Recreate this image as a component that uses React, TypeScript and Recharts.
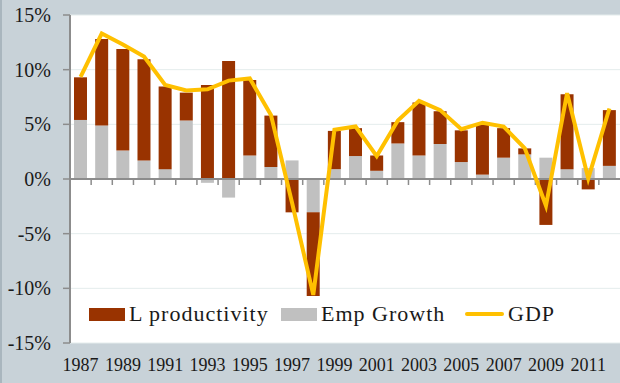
import React from "react";
import {
  ComposedChart,
  Bar,
  Line,
  XAxis,
  YAxis,
  CartesianGrid,
  ReferenceLine,
} from "recharts";

const years = [
  "1987", "1988", "1989", "1990", "1991", "1992", "1993", "1994", "1995",
  "1996", "1997", "1998", "1999", "2000", "2001", "2002", "2003", "2004",
  "2005", "2006", "2007", "2008", "2009", "2010", "2011", "2012",
];

// contributions, in %
const empGrowth = [
  5.4, 4.9, 2.6, 1.7, 0.9, 5.35, -0.35, -1.7, 2.15, 1.1, 1.7, -3.05, 0.9,
  2.1, 0.75, 3.25, 2.15, 3.2, 1.55, 0.4, 1.95, 2.25, 1.95, 0.9, 1.0, 1.2,
];
const lProductivity = [
  3.9, 7.9, 9.3, 9.25, 7.55, 2.55, 8.6, 10.8, 6.9, 4.7, -3.05, -7.65, 3.5,
  2.55, 1.4, 1.95, 4.85, 3.0, 2.9, 4.55, 2.7, 0.55, -4.2, 6.85, -0.95, 5.1,
];
const gdp = [
  9.35, 13.3, 12.3, 11.2, 8.6, 8.1, 8.2, 9.0, 9.2, 5.85, -2.2, -10.6, 4.5,
  4.8, 2.1, 5.35, 7.15, 6.3, 4.55, 5.15, 4.8, 2.8, -2.45, 7.85, 0.05, 6.45,
];

const yTicks = [-15, -10, -5, 0, 5, 10, 15];

const PROD = "#993300";
const EMP = "#C0C0C0";
const GDP = "#FFC000";
const AXIS = "#8C8C8C";
const FONT = "'Liberation Serif', 'Times New Roman', serif";

const data = years.map((year, i) => ({
  year,
  emp: empGrowth[i],
  prod: lProductivity[i],
  gdp: gdp[i],
}));

// zero line with small tick marks at the category boundaries
function ZeroAxis(props: any) {
  const { x1, x2, y1 } = props;
  const step = (x2 - x1) / years.length;
  return (
    <g>
      <line x1={x1} x2={x2} y1={y1} y2={y1} stroke={AXIS} strokeWidth={2} />
      {years.slice(1).map((_, i) => (
        <line
          key={i}
          x1={x1 + step * (i + 1)}
          x2={x1 + step * (i + 1)}
          y1={y1}
          y2={y1 + 6}
          stroke={AXIS}
          strokeWidth={1.5}
        />
      ))}
    </g>
  );
}

const legendText: React.CSSProperties = {
  fontFamily: FONT,
  fontSize: 22,
  letterSpacing: 1,
  color: "#1a1a1a",
  marginLeft: 4,
};

function ChartLegend() {
  const item = (left: number, swatch: React.ReactNode, label: string) => (
    <div
      style={{
        position: "absolute",
        left,
        top: 300,
        display: "flex",
        alignItems: "center",
        height: 28,
      }}
    >
      {swatch}
      <span style={legendText}>{label}</span>
    </div>
  );
  return (
    <>
      {item(87, <div style={{ width: 36, height: 13, background: PROD }} />, "L productivity")}
      {item(279, <div style={{ width: 36, height: 13, background: EMP }} />, "Emp Growth")}
      {item(
        463,
        <div style={{ width: 39, height: 4, background: GDP, borderRadius: 2 }} />,
        "GDP"
      )}
    </>
  );
}

export default function App() {
  return (
    <div
      style={{
        position: "absolute",
        left: 0,
        top: 0,
        width: 620,
        height: 383,
        background: "#C8D2D8",
        borderLeft: "2px solid #A9B6BE",
        boxSizing: "border-box",
      }}
    >
      <ComposedChart
        width={618}
        height={383}
        data={data}
        stackOffset="sign"
        barCategoryGap="19%"
        margin={{ top: 15, right: 0, left: 0, bottom: 0 }}
      >
        <CartesianGrid vertical={false} stroke="#E4ECEC" fill="#FFFFFF" />
        <XAxis
          dataKey="year"
          interval={1}
          axisLine={false}
          tickLine={false}
          height={40}
          tickMargin={9}
          tick={{ fontFamily: FONT, fontSize: 18, fill: "#1a1a1a" }}
        />
        <YAxis
          domain={[-15, 15]}
          ticks={yTicks}
          width={68}
          tickSize={7}
          tickMargin={12}
          tickFormatter={(v) => `${v}%`}
          axisLine={{ stroke: AXIS, strokeWidth: 2 }}
          tickLine={{ stroke: AXIS, strokeWidth: 1.5 }}
          tick={{ fontFamily: FONT, fontSize: 20, fill: "#1a1a1a" }}
        />
        <Bar dataKey="emp" stackId="a" fill={EMP} isAnimationActive={false} />
        <Bar dataKey="prod" stackId="a" fill={PROD} isAnimationActive={false} />
        <ReferenceLine y={0} shape={ZeroAxis} />
        <Line
          type="linear"
          dataKey="gdp"
          stroke={GDP}
          strokeWidth={4}
          dot={false}
          isAnimationActive={false}
        />
      </ComposedChart>
      <ChartLegend />
    </div>
  );
}
